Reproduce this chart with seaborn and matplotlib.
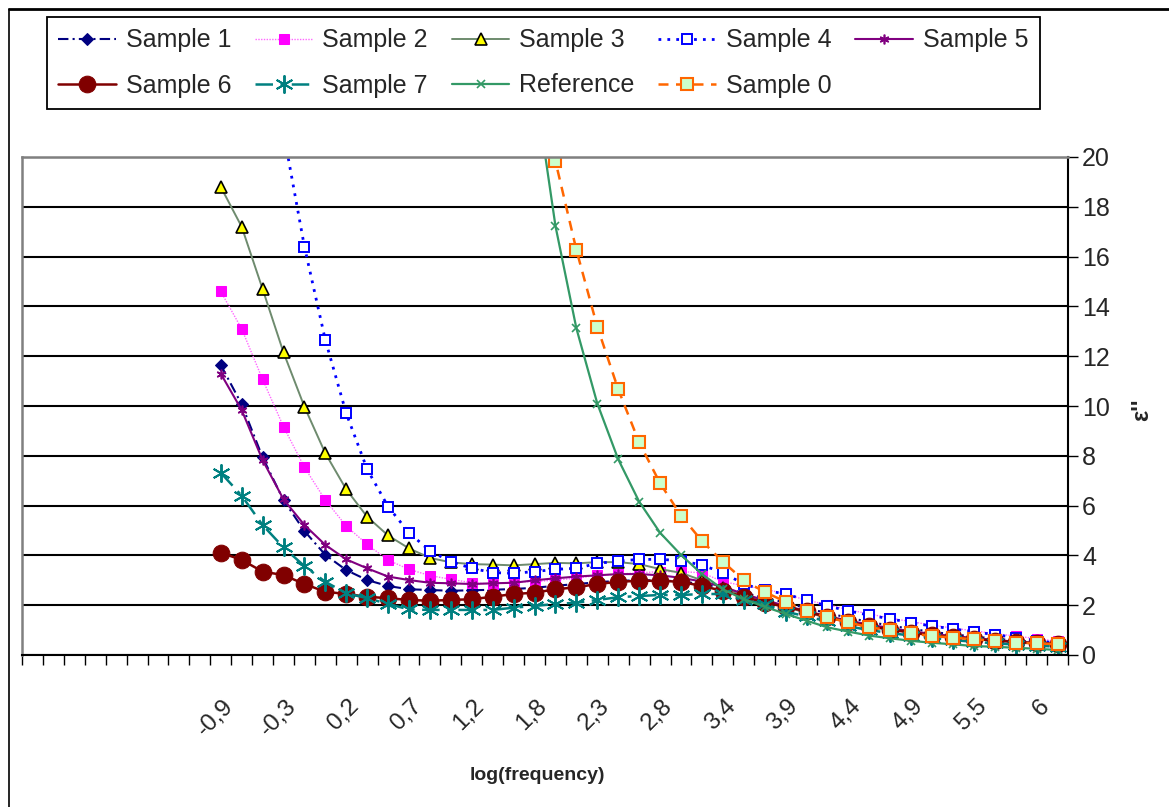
import numpy as np
import pandas as pd
import matplotlib
matplotlib.use("Agg")
import matplotlib.pyplot as plt
import matplotlib.transforms as mtransforms
from matplotlib.lines import Line2D
import seaborn as sns

# categorie dell'asse x (le prime 9 sono vuote), etichetta ogni 3 categorie
n_categories = 50
first_point = 9
label_step = 3
tick_labels = ["-0,9", "-0,3", "0,2", "0,7", "1,2", "1,8", "2,3", "2,8",
               "3,4", "3,9", "4,4", "4,9", "5,5", "6"]

nan = np.nan
# valori di eps'' (categorie 9..49)
sample1 = [11.65, 10.07, 7.94, 6.22, 4.98, 4.02, 3.41, 3.01, 2.77, 2.64, 2.61, 2.58, 2.6, 2.62,
           2.65, 2.7, 2.78, 2.85, 2.92, 2.98, 3.0, 3.0, 2.95, 2.85, 2.7, 2.5, 2.3, 2.1, 1.88, 1.68,
           1.5, 1.33, 1.18, 1.05, 0.93, 0.83, 0.74, 0.66, 0.58, 0.52, 0.46]
sample2 = [14.6, 13.1, 11.07, 9.17, 7.54, 6.22, 5.18, 4.44, 3.81, 3.44, 3.19, 3.04, 2.9, 2.85,
           2.94, 2.94, 3.01, 3.08, 3.2, 3.25, 3.3, 3.35, 3.35, 3.3, 2.95, 2.78, 2.65, 2.45, 2.2,
           2.02, 1.82, 1.65, 1.48, 1.34, 1.2, 1.08, 0.97, 0.86, 0.76, 0.66, 0.55]
sample3 = [18.8, 17.2, 14.7, 12.15, 9.97, 8.1, 6.65, 5.55, 4.8, 4.28, 3.9, 3.72, 3.65, 3.63,
           3.6, 3.65, 3.7, 3.68, 3.73, 3.73, 3.65, 3.45, 3.3, 3.0, 2.7, 2.4, 2.15, 1.92, 1.7, 1.5,
           1.33, 1.18, 1.05, 0.93, 0.83, 0.74, 0.66, 0.59, 0.53, 0.47, 0.42]
sample4 = [nan, nan, nan, 21.0, 16.4, 12.65, 9.7, 7.46, 5.96, 4.91, 4.18, 3.75, 3.48, 3.31,
           3.28, 3.35, 3.44, 3.48, 3.68, 3.77, 3.84, 3.84, 3.79, 3.61, 3.31, 2.85, 2.6, 2.45, 2.2,
           1.97, 1.77, 1.6, 1.45, 1.3, 1.16, 1.05, 0.93, 0.82, 0.7, 0.58, 0.47]
sample5 = [11.3, 9.84, 7.83, 6.25, 5.22, 4.42, 3.84, 3.48, 3.15, 3.01, 2.9, 2.88, 2.85, 2.88,
           2.9, 3.0, 3.08, 3.15, 3.2, 3.25, 3.25, 3.2, 3.1, 2.95, 2.75, 2.45, 2.2, 1.98, 1.76,
           1.56, 1.38, 1.22, 1.08, 0.95, 0.85, 0.76, 0.68, 0.6, 0.54, 0.48, 0.43]
sample6 = [4.11, 3.82, 3.35, 3.21, 2.85, 2.54, 2.45, 2.34, 2.28, 2.21, 2.18, 2.21, 2.24, 2.34,
           2.45, 2.5, 2.64, 2.72, 2.85, 2.94, 2.98, 2.98, 2.94, 2.77, 2.58, 2.34, 2.1, 1.94, 1.75,
           1.52, 1.33, 1.15, 1.02, 0.9, 0.8, 0.72, 0.65, 0.58, 0.52, 0.48, 0.44]
sample7 = [7.32, 6.4, 5.22, 4.32, 3.57, 2.94, 2.48, 2.28, 2.05, 1.83, 1.81, 1.81, 1.81, 1.81,
           1.9, 1.97, 2.05, 2.1, 2.21, 2.32, 2.37, 2.41, 2.41, 2.45, 2.45, 2.2, 2.05, 1.74, 1.55,
           1.35, 1.15, 1.0, 0.88, 0.78, 0.68, 0.6, 0.53, 0.47, 0.42, 0.38, 0.33]
reference = [nan] * 15 + [23.0, 17.23, 13.12, 10.1, 7.86, 6.16, 4.91, 4.02, 3.25, 2.64, 2.24,
                          1.94, 1.65, 1.38, 1.11, 0.94, 0.78, 0.67, 0.57, 0.49, 0.43, 0.36,
                          0.33, 0.29, 0.25, 0.2]
sample0 = [nan] * 15 + [23.6, 19.83, 16.27, 13.18, 10.67, 8.54, 6.9, 5.6, 4.58, 3.75, 3.0,
                        2.53, 2.14, 1.78, 1.51, 1.31, 1.11, 1.0, 0.87, 0.76, 0.70, 0.63, 0.57,
                        0.49, 0.47, 0.43]

df = pd.DataFrame({
    "cat": np.arange(first_point, n_categories),
    "Sample 1": sample1, "Sample 2": sample2, "Sample 3": sample3,
    "Sample 4": sample4, "Sample 5": sample5, "Sample 6": sample6,
    "Sample 7": sample7, "Reference": reference, "Sample 0": sample0,
})

# stili delle serie (stile Excel)
styles = {
    "Sample 1": dict(color="#000080", ls=(0, (5, 2, 1, 2)), lw=1.5, marker="D", ms=6,
                     mfc="#000080", mec="#000080"),
    "Sample 2": dict(color="#FF66FF", ls=(0, (1, 1)), lw=1.0, marker="s", ms=7,
                     mfc="#FF00FF", mec="#FF00FF"),
    "Sample 3": dict(color="#6E8B6E", ls="-", lw=1.4, marker="^", ms=8.5,
                     mfc="#FFFF00", mec="black", mew=1.2),
    "Sample 4": dict(color="#0000FF", ls=(0, (1, 2.2)), lw=2.0, marker="s", ms=7.5,
                     mfc="white", mec="#0000FF", mew=1.4),
    "Sample 5": dict(color="#800080", ls="-", lw=1.5, marker=(6, 2, 0), ms=7,
                     mfc="#800080", mec="#800080", mew=1.2),
    "Sample 6": dict(color="#800000", ls="-", lw=1.8, marker="o", ms=12,
                     mfc="#800000", mec="#800000"),
    "Sample 7": dict(color="#008080", ls=(0, (7, 3, 1.5, 3)), lw=1.8, marker=(6, 2, 0), ms=13,
                     mfc="#008080", mec="#008080", mew=1.4),
    "Reference": dict(color="#339966", ls="-", lw=1.6, marker="x", ms=5.5,
                      mfc="#339966", mec="#339966", mew=1.2),
    "Sample 0": dict(color="#FF6600", ls=(0, (4, 3)), lw=1.8, marker="s", ms=8,
                     mfc="#CCFFCC", mec="#FF6600", mew=1.5),
}

sns.set_theme(style="white")
plt.rcParams["font.family"] = ["Liberation Sans", "DejaVu Sans"]

fig = plt.figure(figsize=(11.69, 8.07), dpi=100)
ax = fig.add_axes([22 / 1169, 1 - 655 / 807, (1068 - 22) / 1169, (655 - 157) / 807])

for name, st in styles.items():
    sns.lineplot(data=df, x="cat", y=name, ax=ax, label=name, **st)

ax.set_xlim(-0.5, n_categories - 0.5)
ax.set_ylim(0, 20)

# asse x: etichette ogni 3 categorie, tacche tra le categorie
ax.set_xticks(np.arange(len(tick_labels)) * label_step + first_point)
ax.set_xticklabels(tick_labels, rotation=45, ha="right", va="top", fontsize=17.5)
ax.set_xticks(np.arange(n_categories + 1) - 0.5, minor=True)
ax.tick_params(axis="x", which="major", length=0, pad=29)
ax.tick_params(axis="x", which="minor", length=7, width=1, color="black",
               direction="out", bottom=True)
offset = mtransforms.ScaledTranslation(17 / 100, 0, fig.dpi_scale_trans)
for lab in ax.get_xticklabels():
    lab.set_transform(lab.get_transform() + offset)

# asse y a destra
ax.yaxis.tick_right()
ax.set_yticks(range(0, 21, 2))
ax.tick_params(axis="y", length=7, width=1, color="black", direction="out",
               labelsize=18, pad=3, right=True)
ax.grid(axis="y", color="black", lw=1.5)
ax.grid(axis="x", visible=False)
ax.set_axisbelow(True)
ax.set_xlabel("")
ax.set_ylabel("")

for side in ["left", "top"]:
    ax.spines[side].set_color("#808080")
    ax.spines[side].set_linewidth(1.8)
for side in ["right", "bottom"]:
    ax.spines[side].set_color("black")
    ax.spines[side].set_linewidth(1.5)

fig.text(537 / 1169, 1 - 775 / 807, "log(frequency)", ha="center", va="center",
         fontsize=14, fontweight="bold")
fig.text(1142 / 1169, 1 - 410 / 807, "ε''", ha="center", va="center",
         fontsize=17, fontweight="bold", rotation=90)

# legenda in 2 righe x 5 colonne (ordine per righe)
handles, labels = ax.get_legend_handles_labels()
ax.get_legend().remove()
order = [0, 5, 1, 6, 2, 7, 3, 8, 4]
leg = fig.legend([handles[i] for i in order], [labels[i] for i in order],
                 loc="upper left", bbox_to_anchor=(47 / 1169, 1 - 17 / 807),
                 ncol=5, fontsize=18, numpoints=1, handlelength=2.3,
                 handletextpad=0.4, columnspacing=0.95, borderpad=0.45,
                 labelspacing=0.85, borderaxespad=0, fancybox=False,
                 edgecolor="black", framealpha=1)
leg.get_frame().set_linewidth(1.3)

# bordo dell'area grafico
fig.add_artist(Line2D([9 / 1169, 9 / 1169], [0, 1 - 9 / 807], color="black", lw=1.2))
fig.add_artist(Line2D([9 / 1169, 1], [1 - 9 / 807, 1 - 9 / 807], color="black", lw=2))

fig.savefig("out.png", dpi=100)
